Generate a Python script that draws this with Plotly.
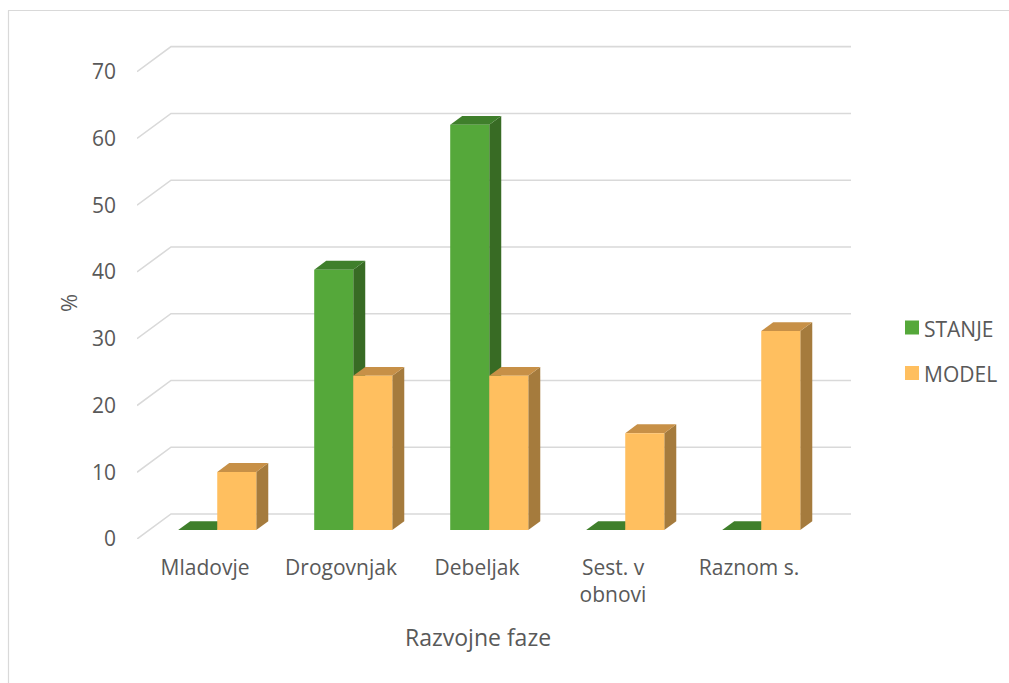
import plotly.graph_objects as go

# Development phases and their shares (%)
categories = ["Mladovje", "Drogovnjak", "Debeljak", "Sest. v<br>obnovi", "Raznom s."]
stanje = [0, 39.0, 60.7, 0, 0]
model = [8.7, 23.1, 23.1, 14.5, 29.8]
y_ticks = [0, 10, 20, 30, 40, 50, 60, 70]

series = [
    ("STANJE", stanje, {"front": "#55A83A", "side": "#386B24", "top": "#3F7F2B"}),
    ("MODEL", model, {"front": "#FFBF5F", "side": "#A57B3D", "top": "#C79047"}),
]

# Oblique projection of the chart box (in axis units)
WALL_DX, WALL_DY = 0.25, 3.75        # offset from front plane to back wall
BAR_FRONT, BAR_DEPTH = 0.36, 0.353   # bar placement as fractions of wall depth
BAR_W = 0.287                        # bar width in category units

x_min, x_max = -0.5, len(categories) - 0.5
fig = go.Figure()

# Back-wall gridlines with their receding floor edges
for v in y_ticks:
    fig.add_trace(go.Scatter(
        x=[x_min, x_min + WALL_DX, x_max + WALL_DX],
        y=[v, v + WALL_DY, v + WALL_DY],
        mode="lines", line=dict(color="#D9D9D9", width=1.6),
        hoverinfo="skip", showlegend=False, cliponaxis=False))


def poly(xs, ys, color):
    fig.add_trace(go.Scatter(
        x=xs + [xs[0]], y=ys + [ys[0]], mode="lines", fill="toself",
        fillcolor=color, line=dict(width=0, color=color),
        hoverinfo="skip", showlegend=False, cliponaxis=False))


shift_x = BAR_FRONT * WALL_DX
base = BAR_FRONT * WALL_DY
ddx = BAR_DEPTH * WALL_DX
ddy = BAR_DEPTH * WALL_DY

for i in range(len(categories)):
    for k, (name, vals, col) in enumerate(series):
        v = vals[i]
        xl = i + shift_x + (k - 1) * BAR_W
        xr = xl + BAR_W
        top = base + v
        # side face
        poly([xr, xr, xr + ddx, xr + ddx], [base, top, top + ddy, base + ddy], col["side"])
        # top face
        poly([xl, xr, xr + ddx, xl + ddx], [top, top, top + ddy, top + ddy], col["top"])
        # front face
        if v > 0:
            poly([xl, xr, xr, xl], [base, base, top, top], col["front"])

L, R, T, B = 137, 158, 45, 144
W, H = 1009, 683
pw = W - L - R
ph = H - T - B


def px(x):
    return (x - L) / pw


def py(y):
    return (H - B - y) / ph


annotations = [
    dict(text="%", textangle=-90, x=px(68), y=py(303), xanchor="center",
         yanchor="middle", xref="paper", yref="paper", showarrow=False,
         font=dict(size=22)),
    dict(text="Razvojne faze", x=px(478), y=py(637), xanchor="center",
         yanchor="middle", xref="paper", yref="paper", showarrow=False,
         font=dict(size=23)),
]
shapes = [
    dict(type="line", xref="paper", yref="paper",
         x0=px(8), x1=px(W), y0=py(10.5), y1=py(10.5),
         line=dict(color="#D9D9D9", width=1.2)),
    dict(type="line", xref="paper", yref="paper",
         x0=px(8.5), x1=px(8.5), y0=py(10.5), y1=py(H),
         line=dict(color="#D9D9D9", width=1.2)),
]

# Legend: colour key squares with series names
for gi, (name, vals, col) in enumerate(series):
    cy = 327.5 + gi * 45.5
    shapes.append(dict(type="rect", xref="paper", yref="paper",
                       x0=px(905), x1=px(919), y0=py(cy + 7), y1=py(cy - 7),
                       fillcolor=col["front"], line=dict(width=0)))
    annotations.append(dict(text=name, x=px(922), y=py(cy + 1), xanchor="left",
                            yanchor="middle", xref="paper", yref="paper",
                            showarrow=False, font=dict(size=21, color="#595959")))

fig.update_layout(
    width=W, height=H,
    margin=dict(l=L, r=R, t=T, b=B, autoexpand=False),
    paper_bgcolor="white", plot_bgcolor="white",
    font=dict(family="Open Sans", size=21, color="#595959"),
    xaxis=dict(range=[x_min, x_max + WALL_DX], tickvals=list(range(len(categories))),
               ticktext=categories, showgrid=False, zeroline=False, showline=False,
               ticks="", ticklabelstandoff=14, fixedrange=True),
    yaxis=dict(range=[0, 74], tickvals=y_ticks, showgrid=False, zeroline=False,
               showline=False, ticks="", ticklabelstandoff=20, fixedrange=True),
    showlegend=False,
    annotations=annotations,
    shapes=shapes,
)

fig.write_html("out.html")
